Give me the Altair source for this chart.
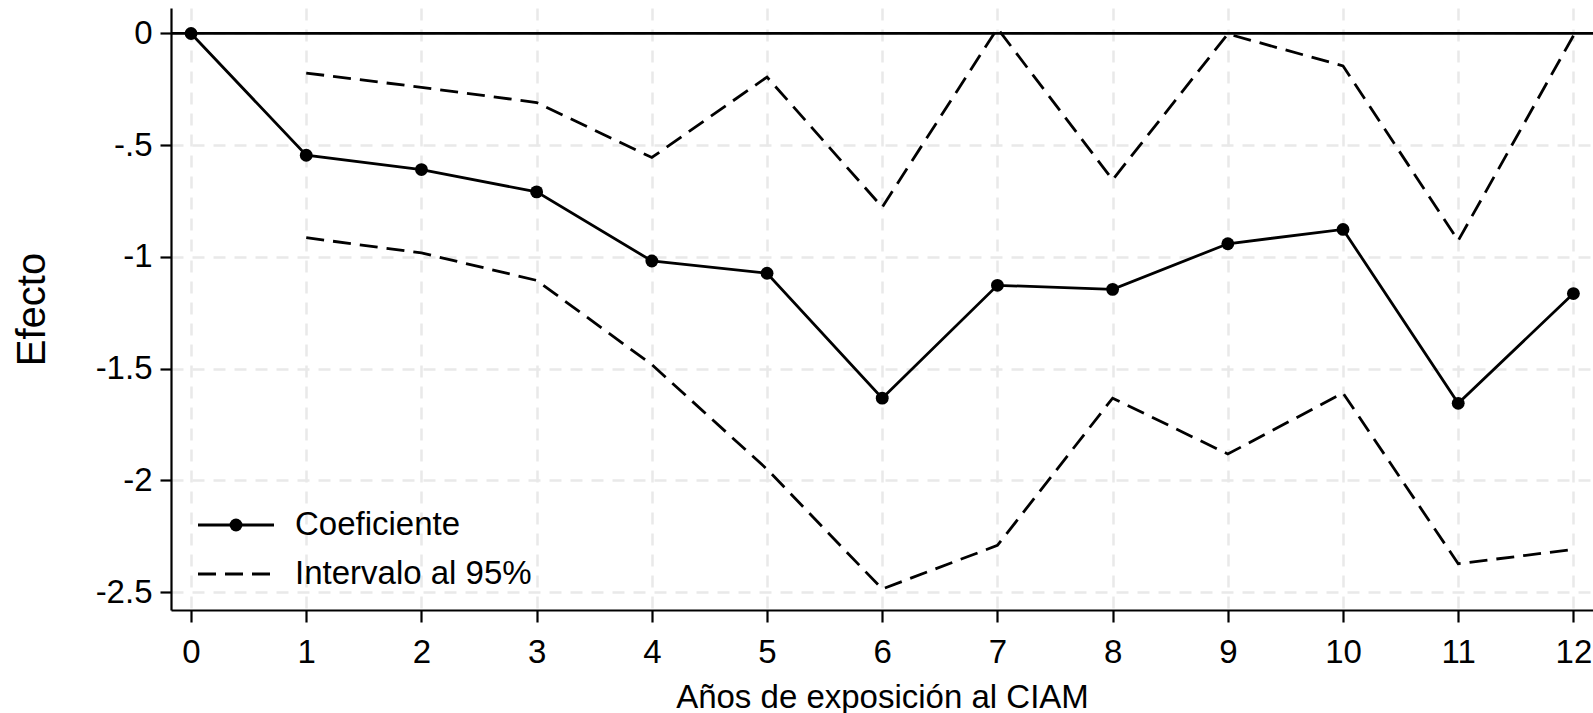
import altair as alt
import pandas as pd

years = list(range(13))
coef = [0.0, -0.545, -0.609, -0.709, -1.018, -1.073, -1.632, -1.127, -1.145, -0.941, -0.877, -1.655, -1.164]
ci_years = list(range(1, 13))
upper = [-0.177, -0.241, -0.309, -0.555, -0.195, -0.777, 0.023, -0.655, -0.002, -0.145, -0.927, -0.01]
lower = [-0.914, -0.982, -1.105, -1.482, -1.950, -2.486, -2.291, -1.632, -1.882, -1.609, -2.373, -2.309]

y_ticks = [0, -0.5, -1, -1.5, -2, -2.5]
x_ticks = years
legend_labels = ["Coeficiente", "Intervalo al 95%"]

FONT = "Liberation Sans"
W, H = 1422, 602

coef_df = pd.DataFrame({"x": years, "y": coef})
ci_df = pd.DataFrame({
    "x": ci_years + ci_years,
    "y": upper + lower,
    "bound": ["upper"] * len(ci_years) + ["lower"] * len(ci_years),
})

xscale = alt.Scale(domain=[-0.174, 12.17], nice=False, zero=False)
yscale = alt.Scale(domain=[-2.58, 0.114], nice=False, zero=False)

xenc = alt.X("x:Q", scale=xscale, axis=alt.Axis(
    values=x_ticks, format="d", title="Años de exposición al CIAM",
    tickSize=12, labelPadding=14, labelFontSize=33, titleFontSize=33,
    titleFontWeight="normal", titleY=97, titleBaseline="alphabetic",
))
yenc = alt.Y("y:Q", scale=yscale, axis=alt.Axis(
    values=y_ticks, title="Efecto", labelExpr="replace(toString(datum.value), '0.', '.')",
    tickSize=11, labelPadding=8, labelFontSize=33, titleFontSize=40,
    titleFontWeight="normal", titleX=-139, titleBaseline="middle",
))

LW = 2.8
DASH = [18, 9]
PT = 165

zero = alt.Chart(pd.DataFrame({"z": [0]})).mark_rule(color="black", strokeWidth=2.8).encode(
    y=alt.Y("z:Q", scale=yscale)
)

ci = alt.Chart(ci_df).mark_line(color="black", strokeWidth=LW, strokeDash=DASH).encode(
    x=xenc, y=yenc, detail="bound:N"
)

coef_line = alt.Chart(coef_df).mark_line(color="black", strokeWidth=LW).encode(x=xenc, y=yenc)
coef_pts = alt.Chart(coef_df).mark_circle(color="black", size=PT, opacity=1).encode(x=xenc, y=yenc)

one = pd.DataFrame({"a": [0]})
leg_y1, leg_y2 = 517, 566
leg_rule1 = alt.Chart(one).mark_rule(color="black", strokeWidth=LW).encode(
    x=alt.value(27), x2=alt.value(103), y=alt.value(leg_y1))
leg_pt = alt.Chart(one).mark_circle(color="black", size=PT, opacity=1).encode(
    x=alt.value(65), y=alt.value(leg_y1))
leg_rule2 = alt.Chart(one).mark_rule(color="black", strokeWidth=LW, strokeDash=DASH).encode(
    x=alt.value(27), x2=alt.value(103), y=alt.value(leg_y2))
leg_t1 = alt.Chart(one).mark_text(align="left", baseline="middle", fontSize=33, font=FONT, color="black").encode(
    x=alt.value(124), y=alt.value(leg_y1), text=alt.value(legend_labels[0]))
leg_t2 = alt.Chart(one).mark_text(align="left", baseline="middle", fontSize=33, font=FONT, color="black").encode(
    x=alt.value(124), y=alt.value(leg_y2), text=alt.value(legend_labels[1]))

chart = alt.layer(
    zero, ci, coef_line, coef_pts, leg_rule1, leg_pt, leg_rule2, leg_t1, leg_t2
).properties(
    width=W, height=H,
    autosize=alt.AutoSizeParams(type="none"),
    padding={"left": 171, "top": 8, "right": 0, "bottom": 103},
    background="white",
).configure_view(stroke=None).configure_axis(
    domainColor="black", domainWidth=2.2, tickColor="black", tickWidth=2.2,
    labelColor="black", titleColor="black", labelFont=FONT, titleFont=FONT,
    grid=True, gridColor="#e9e9e9", gridWidth=2.5, gridDash=[12, 9],
)

chart.save("out.html", embed_options={"renderer": "svg", "actions": False})
